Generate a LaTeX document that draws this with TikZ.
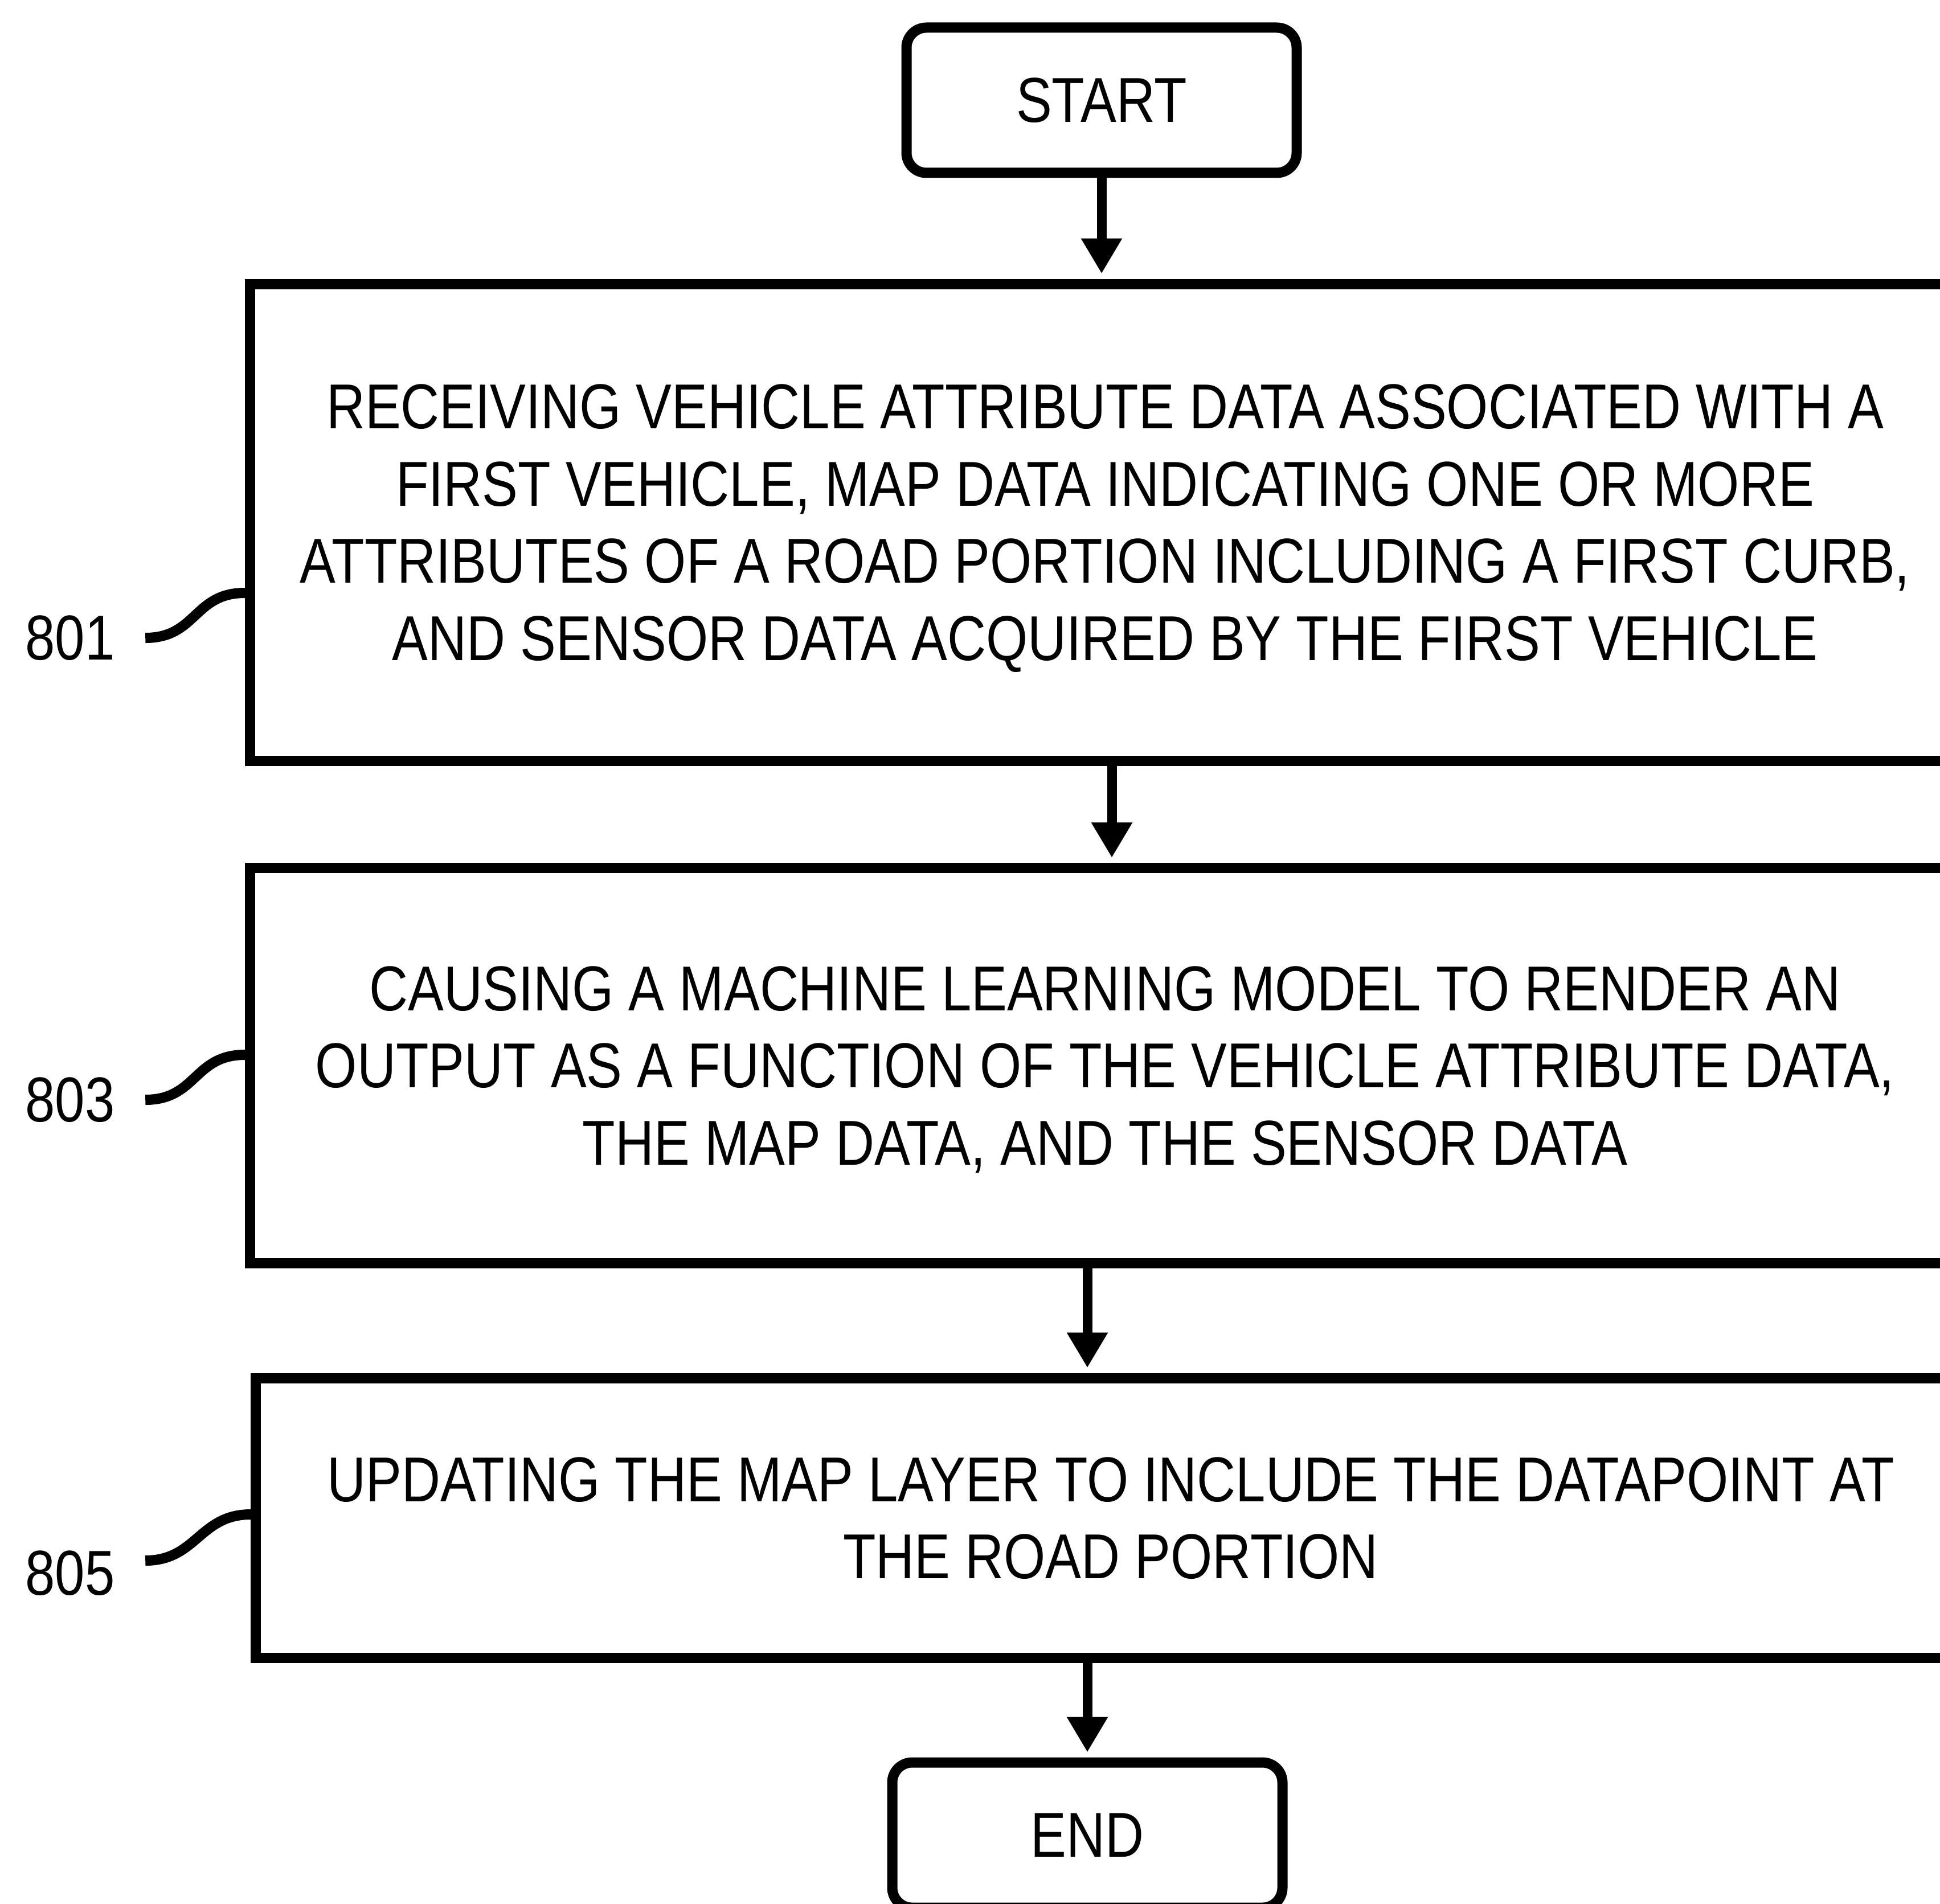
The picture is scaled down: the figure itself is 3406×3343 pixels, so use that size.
\documentclass[tikz,border=0pt]{standalone}
\usepackage{fontspec}
\setmainfont{Liberation Sans}[FakeStretch=0.845]
\usetikzlibrary{arrows.meta,positioning,calc}
\newcommand{\flowfont}{\fontsize{31.7}{38.6}\selectfont}
\tikzset{
    stepbox/.style={draw, line width=1.8mm, minimum width=300.2mm, inner sep=0pt, align=center, text depth=0pt, font=\flowfont},
    termbox/.style={draw, line width=1.8mm, rounded corners=3.5mm, minimum width=68.5mm, minimum height=25.5mm, font=\flowfont},
    flow/.style={line width=1.7mm, -{Triangle[width=6.8mm,length=6.2mm]}, shorten >=0.9mm},
    leader/.style={line width=1.8mm},
    refnum/.style={font=\flowfont, inner xsep=5.3mm, inner ysep=0pt}
}

\begin{document}
\begin{tikzpicture}[x=0.1mm, y=-0.1mm]
                \useasboundingbox (0,0) rectangle (3406,3343);
                \clip (0,0) rectangle (3406,3343);

                \node[termbox] (start) at (1934,176) {START};
                \node[stepbox, minimum height=83.7mm] (b801) at (1940,917) {
                    RECEIVING VEHICLE ATTRIBUTE DATA ASSOCIATED WITH A\\
                    FIRST VEHICLE, MAP DATA INDICATING ONE OR MORE\\
                    ATTRIBUTES OF A ROAD PORTION INCLUDING A FIRST CURB,\\
                    AND SENSOR DATA ACQUIRED BY THE FIRST VEHICLE
                };
                \node[stepbox, minimum height=69.4mm] (b803) at (1940,1871) {
                    CAUSING A MACHINE LEARNING MODEL TO RENDER AN\\
                    OUTPUT AS A FUNCTION OF THE VEHICLE ATTRIBUTE DATA,\\
                    THE MAP DATA, AND THE SENSOR DATA
                };
                \node[stepbox, minimum height=49.1mm] (b805) at (1950,2665) {
                    UPDATING THE MAP LAYER TO INCLUDE THE DATAPOINT AT\\
                    THE ROAD PORTION
                };
                \node[termbox] (end) at (1909,3222) {END};

                \node[refnum] (l801) at (123,1120) {801};
                \node[refnum] (l803) at (123,1931) {803};
                \node[refnum] (l805) at (123,2762) {805};

                \draw[leader] (l801.east) .. controls +(9mm,0) and +(-9mm,0) .. (b801.west |- 0,1041);
                \draw[leader] (l803.east) .. controls +(9mm,0) and +(-9mm,0) .. (b803.west |- 0,1852);
                \draw[leader] ([yshift=2.2mm]l805.east) .. controls +(9mm,0) and +(-9mm,0) .. (b805.west |- 0,2659);

                \draw[flow] (start.south) -- (start.south |- b801.north);
                \draw[flow] ([xshift=1.2mm]b801.south) -- ([xshift=1.2mm]b803.north);
                \draw[flow] (b803.south -| end) -- (b805.north -| end);
                \draw[flow] (b805.south -| end) -- (end.north);
            \end{tikzpicture}
\end{document}
